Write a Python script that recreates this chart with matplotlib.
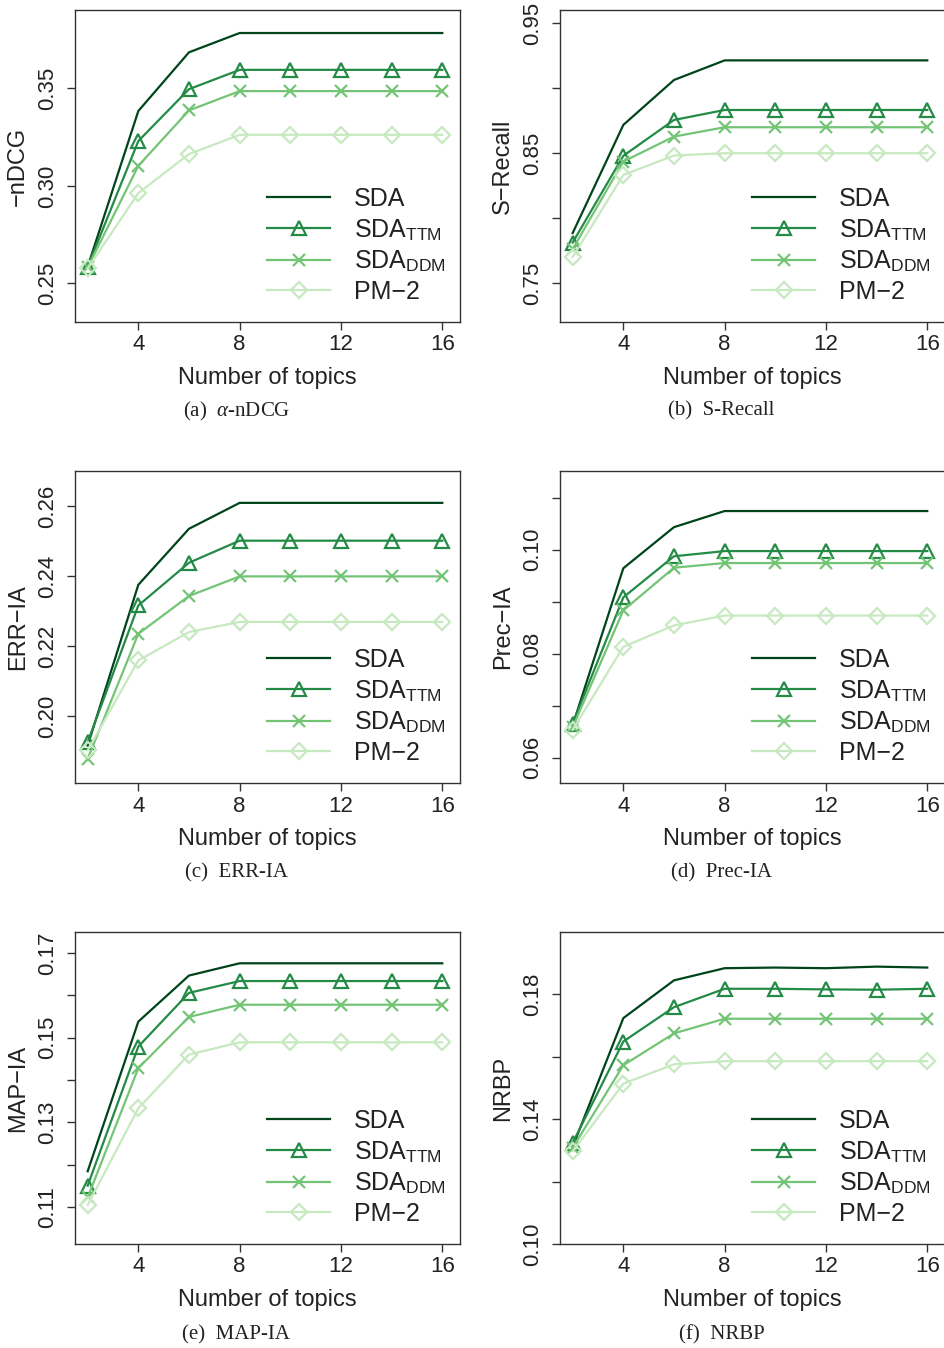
import matplotlib
matplotlib.use("Agg")
import matplotlib.pyplot as plt

plt.rcParams['font.family'] = ['Liberation Sans', 'DejaVu Sans']
plt.rcParams['mathtext.fontset'] = 'custom'
plt.rcParams['mathtext.rm'] = 'Liberation Sans'
plt.rcParams['mathtext.it'] = 'Liberation Serif:italic'

# number of topics
topics = [2, 4, 6, 8, 10, 12, 14, 16]

# (a) alpha-nDCG
ndcg_sda = [0.2585, 0.3384, 0.3685, 0.3784, 0.3784, 0.3784, 0.3784, 0.3784]
ndcg_ttm = [0.2585, 0.3230, 0.3496, 0.3595, 0.3595, 0.3595, 0.3595, 0.3595]
ndcg_ddm = [0.2582, 0.3103, 0.3387, 0.3486, 0.3486, 0.3486, 0.3486, 0.3486]
ndcg_pm2 = [0.2577, 0.2963, 0.3163, 0.3262, 0.3262, 0.3262, 0.3262, 0.3262]

# (b) S-Recall
srec_sda = [0.7885, 0.8718, 0.9064, 0.9215, 0.9215, 0.9215, 0.9215, 0.9215]
srec_ttm = [0.7812, 0.8480, 0.8756, 0.8833, 0.8833, 0.8833, 0.8833, 0.8833]
srec_ddm = [0.7762, 0.8436, 0.8628, 0.8700, 0.8700, 0.8700, 0.8700, 0.8700]
srec_pm2 = [0.7700, 0.8333, 0.8482, 0.8500, 0.8500, 0.8500, 0.8500, 0.8500]

# (c) ERR-IA
err_sda = [0.1917, 0.2376, 0.2536, 0.2610, 0.2610, 0.2610, 0.2610, 0.2610]
err_ttm = [0.1927, 0.2317, 0.2439, 0.2502, 0.2502, 0.2502, 0.2502, 0.2502]
err_ddm = [0.1879, 0.2236, 0.2344, 0.2400, 0.2400, 0.2400, 0.2400, 0.2400]
err_pm2 = [0.1903, 0.2160, 0.2241, 0.2270, 0.2270, 0.2270, 0.2270, 0.2270]

# (d) Prec-IA
prec_sda = [0.0662, 0.0964, 0.1043, 0.1074, 0.1074, 0.1074, 0.1074, 0.1074]
prec_ttm = [0.0665, 0.0908, 0.0987, 0.0997, 0.0997, 0.0997, 0.0997, 0.0997]
prec_ddm = [0.0658, 0.0883, 0.0965, 0.0974, 0.0974, 0.0974, 0.0974, 0.0974]
prec_pm2 = [0.0653, 0.0813, 0.0854, 0.0873, 0.0873, 0.0873, 0.0873, 0.0873]

# (e) MAP-IA
map_sda = [0.1184, 0.1538, 0.1647, 0.1676, 0.1676, 0.1676, 0.1676, 0.1676]
map_ttm = [0.1150, 0.1479, 0.1606, 0.1634, 0.1634, 0.1634, 0.1634, 0.1634]
map_ddm = [0.1122, 0.1428, 0.1549, 0.1578, 0.1578, 0.1578, 0.1578, 0.1578]
map_pm2 = [0.1104, 0.1333, 0.1460, 0.1489, 0.1489, 0.1489, 0.1489, 0.1489]

# (f) NRBP
nrbp_sda = [0.1311, 0.1724, 0.1845, 0.1884, 0.1886, 0.1884, 0.1889, 0.1886]
nrbp_ttm = [0.1324, 0.1649, 0.1759, 0.1818, 0.1818, 0.1816, 0.1815, 0.1818]
nrbp_ddm = [0.1308, 0.1573, 0.1675, 0.1722, 0.1722, 0.1722, 0.1722, 0.1722]
nrbp_pm2 = [0.1297, 0.1514, 0.1576, 0.1586, 0.1586, 0.1586, 0.1586, 0.1586]

methods = ['SDA', r'SDA$_{\mathrm{TTM}}$', r'SDA$_{\mathrm{DDM}}$', 'PM\u22122']
colors = ['#00441b', '#238b45', '#74c476', '#c7e9c0']
markers = [None, '^', 'x', 'D']
msizes = [0, 10, 9, 8]

x_ticks = [4, 8, 12, 16]

panels = [
    dict(data=[ndcg_sda, ndcg_ttm, ndcg_ddm, ndcg_pm2], ylabel='\u2212nDCG',
         caption=r'(a)  $\alpha$-nDCG', ylim=(0.2302, 0.3902),
         yticks=[0.25, 0.30, 0.35], ylabels=['0.25', '0.30', '0.35']),
    dict(data=[srec_sda, srec_ttm, srec_ddm, srec_pm2], ylabel='S\u2212Recall',
         caption='(b)  S-Recall', ylim=(0.72, 0.9603),
         yticks=[0.75, 0.80, 0.85, 0.90, 0.95], ylabels=['0.75', '', '0.85', '', '0.95']),
    dict(data=[err_sda, err_ttm, err_ddm, err_pm2], ylabel='ERR\u2212IA',
         caption='(c)  ERR-IA', ylim=(0.181, 0.2701),
         yticks=[0.20, 0.22, 0.24, 0.26], ylabels=['0.20', '0.22', '0.24', '0.26']),
    dict(data=[prec_sda, prec_ttm, prec_ddm, prec_pm2], ylabel='Prec\u2212IA',
         caption='(d)  Prec-IA', ylim=(0.0551, 0.1151),
         yticks=[0.06, 0.07, 0.08, 0.09, 0.10, 0.11],
         ylabels=['0.06', '', '0.08', '', '0.10', '']),
    dict(data=[map_sda, map_ttm, map_ddm, map_pm2], ylabel='MAP\u2212IA',
         caption='(e)  MAP-IA', ylim=(0.1012, 0.175),
         yticks=[0.11, 0.12, 0.13, 0.14, 0.15, 0.16, 0.17],
         ylabels=['0.11', '', '0.13', '', '0.15', '', '0.17']),
    dict(data=[nrbp_sda, nrbp_ttm, nrbp_ddm, nrbp_pm2], ylabel='NRBP',
         caption='(f)  NRBP', ylim=(0.10, 0.20),
         yticks=[0.10, 0.12, 0.14, 0.16, 0.18],
         ylabels=['0.10', '', '0.14', '', '0.18']),
]

W, H = 945, 1348
fig = plt.figure(figsize=(W / 100, H / 100), dpi=100)

col_left = [75, 560]
row_top = [10, 471, 932]
ax_w, ax_h = 385, 312
caption_y = [411, 873, 1335]

for i, p in enumerate(panels):
    r, c = divmod(i, 2)
    left = col_left[c]
    top = row_top[r]
    ax = fig.add_axes([left / W, 1 - (top + ax_h) / H, ax_w / W, ax_h / H])

    for vals, name, col, mk, ms in zip(p['data'], methods, colors, markers, msizes):
        ax.plot(topics, vals, color=col, lw=1.6, marker=mk, ms=ms,
                mfc='none', mec=col, mew=1.6, label=name)

    ax.set_xlim(1.5, 16.7)
    ax.set_ylim(*p['ylim'])
    ax.set_xticks(x_ticks)
    ax.set_xticklabels([str(t) for t in x_ticks])
    ax.set_yticks(p['yticks'])
    ax.set_yticklabels(p['ylabels'])
    for lab in ax.get_yticklabels():
        lab.set_rotation(90)
        lab.set_va('center')
    ax.tick_params(axis='both', labelsize=16, length=6, width=1.0,
                   color='#333333', labelcolor='#222222')
    ax.tick_params(axis='y', pad=6)
    ax.tick_params(axis='x', pad=3)
    for s in ax.spines.values():
        s.set_color('#333333')
        s.set_linewidth(1.0)

    ax.set_xlabel('Number of topics', fontsize=17, color='#222222', labelpad=8)
    ax.set_ylabel(p['ylabel'], fontsize=17, color='#222222', labelpad=6)

    ax.legend(loc='center left', bbox_to_anchor=(0.50, 0.245), frameon=False,
              fontsize=18, handlelength=2.5, handletextpad=0.95,
              labelspacing=0.24, borderpad=0, borderaxespad=0,
              labelcolor='#222222')

    cx = left + ax_w / 2 - 31
    fig.text(cx / W, 1 - caption_y[r] / H, p['caption'], ha='center', va='center',
             fontsize=15, family='Liberation Serif', color='#222222')

fig.savefig('out.png', dpi=100)
